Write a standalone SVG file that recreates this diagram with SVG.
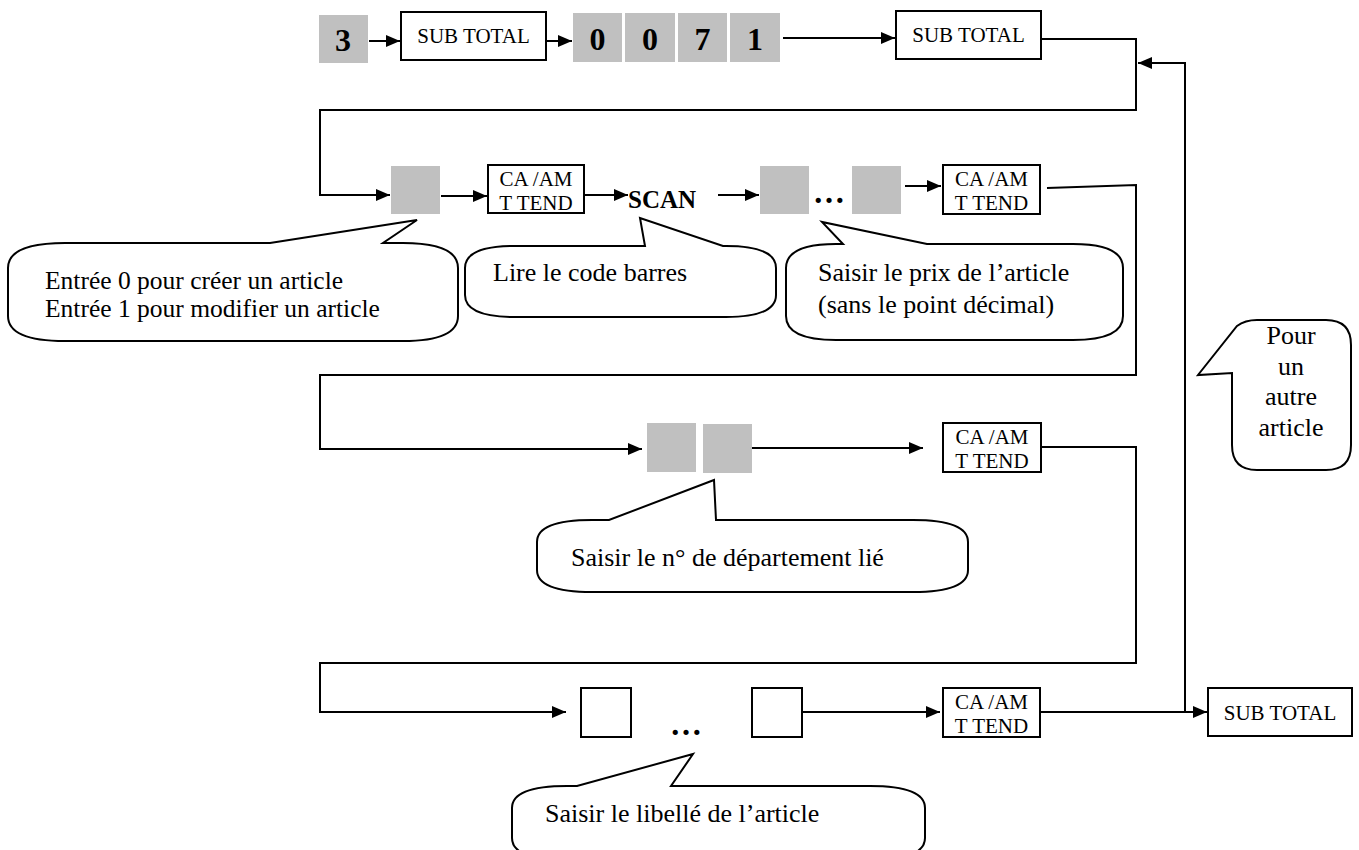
<svg xmlns="http://www.w3.org/2000/svg" width="1359" height="850" viewBox="0 0 1359 850">
<defs>
<marker id="arr" markerUnits="userSpaceOnUse" markerWidth="14" markerHeight="12" refX="14" refY="6" orient="auto">
<path d="M0,0 L14,6 L0,12 Z" fill="#000"/>
</marker>
<style>
.box{fill:#fff;stroke:#000;stroke-width:2}
.gray{fill:#c0c0c0}
.ln{fill:none;stroke:#000;stroke-width:2}
.co{fill:#fff;stroke:#000;stroke-width:2;stroke-linejoin:miter}
text{font-family:"Liberation Serif","Times New Roman",serif;fill:#000}
.k{font-size:21px;text-anchor:middle}
.d{font-size:32px;font-weight:bold;text-anchor:middle}
.c{font-size:26px}
.c2{font-size:25.5px}
.b{font-size:25px;font-weight:bold}
.e{font-size:32px;font-weight:bold}
</style>
</defs>
<rect width="1359" height="850" fill="#fff"/>
<g id="connectors">
<path class="ln" d="M369,41 H400" marker-end="url(#arr)"/>
<path class="ln" d="M547,41 H572" marker-end="url(#arr)"/>
<path class="ln" d="M783,38 H895" marker-end="url(#arr)"/>
<path class="ln" d="M1041,39 H1136 V110 H320 V195 H390" marker-end="url(#arr)"/>
<path class="ln" d="M441,196 H487" marker-end="url(#arr)"/>
<path class="ln" d="M585,195 H628" marker-end="url(#arr)"/>
<path class="ln" d="M718,195 H759" marker-end="url(#arr)"/>
<path class="ln" d="M905,186 H941" marker-end="url(#arr)"/>
<path class="ln" d="M1047,188 L1136,185 V375 H320 V449 H642" marker-end="url(#arr)"/>
<path class="ln" d="M752,448 H923" marker-end="url(#arr)"/>
<path class="ln" d="M1041,447 H1136 V663 H320 V712 H566" marker-end="url(#arr)"/>
<path class="ln" d="M802,712 H940" marker-end="url(#arr)"/>
<path class="ln" d="M1041,712 H1207" marker-end="url(#arr)"/>
<path class="ln" d="M1185,712 V63 H1138" marker-end="url(#arr)"/>
</g>
<g id="n3"><rect class="gray" x="319" y="15" width="49" height="48"/><text class="d" x="343" y="51">3</text></g>
<g id="subtotal1"><rect class="box" x="401" y="12" width="145" height="48"/><text class="k" x="473.5" y="43">SUB TOTAL</text></g>
<g id="n0a"><rect class="gray" x="573" y="13" width="49" height="49"/><text class="d" x="597.5" y="50">0</text></g>
<g id="n0b"><rect class="gray" x="625" y="13" width="50" height="49"/><text class="d" x="650" y="50">0</text></g>
<g id="n7"><rect class="gray" x="678" y="13" width="49" height="49"/><text class="d" x="702.5" y="50">7</text></g>
<g id="n1"><rect class="gray" x="730" y="13" width="50" height="49"/><text class="d" x="755" y="50">1</text></g>
<g id="subtotal2"><rect class="box" x="896" y="11" width="145" height="48"/><text class="k" x="968.5" y="42">SUB TOTAL</text></g>
<g id="key1"><rect class="gray" x="391" y="166" width="49" height="48"/></g>
<g id="camt1"><rect class="box" x="488" y="165" width="96" height="48"/><text class="k" x="536" y="186">CA /AM</text><text class="k" x="536" y="210">T TEND</text></g>
<g id="scan"><text class="b" x="628" y="208">SCAN</text></g>
<g id="price"><rect class="gray" x="760" y="166" width="49" height="48"/><text class="e" x="813" y="203">…</text><rect class="gray" x="852" y="166" width="49" height="48"/></g>
<g id="camt2"><rect class="box" x="943" y="165" width="97" height="49"/><text class="k" x="991.5" y="186">CA /AM</text><text class="k" x="991.5" y="210">T TEND</text></g>
<g id="dept"><rect class="gray" x="647" y="423" width="49" height="49"/><rect class="gray" x="703" y="424" width="49" height="49"/></g>
<g id="camt3"><rect class="box" x="943" y="423" width="98" height="49"/><text class="k" x="992" y="444">CA /AM</text><text class="k" x="992" y="468">T TEND</text></g>
<g id="label"><rect class="box" x="581" y="688" width="50" height="49"/><text class="e" x="670" y="735">…</text><rect class="box" x="752" y="688" width="50" height="49"/></g>
<g id="camt4"><rect class="box" x="943" y="688" width="97" height="49"/><text class="k" x="991.5" y="709">CA /AM</text><text class="k" x="991.5" y="733">T TEND</text></g>
<g id="subtotal3"><rect class="box" x="1208" y="688" width="144" height="48"/><text class="k" x="1280" y="720">SUB TOTAL</text></g>
<g id="callout-entree">
<path class="co" d="M65,243 L270,243 L417,220 L383,243 L403,243 Q458,243 458,268 L458,316 Q458,341 403,341 L65,341 Q8,341 8,316 L8,268 Q8,243 65,243 Z"/>
<text class="c2" x="45" y="289">Entrée 0 pour créer un article</text>
<text class="c2" x="45" y="317">Entrée 1 pour modifier un article</text>
</g>
<g id="callout-scan">
<path class="co" d="M515,246 L645,246 L640,218 L723,246 L726,246 Q776,246 776,268 L776,295 Q776,317 726,317 L515,317 Q465,317 465,295 L465,268 Q465,246 515,246 Z"/>
<text class="c" x="493" y="281">Lire le code barres</text>
</g>
<g id="callout-prix">
<path class="co" d="M836,244 L843,244 L822,222 L927,244 L1073,244 Q1123,244 1123,268 L1123,316 Q1123,340 1073,340 L836,340 Q786,340 786,316 L786,268 Q786,244 836,244 Z"/>
<text class="c" x="818" y="281">Saisir le prix de l’article</text>
<text class="c" x="818" y="313">(sans le point décimal)</text>
</g>
<g id="callout-dept">
<path class="co" d="M592,520 L609,520 L714,480 L716,520 L913,520 Q968,520 968,542 L968,570 Q968,592 913,592 L592,592 Q537,592 537,570 L537,542 Q537,520 592,520 Z"/>
<text class="c" x="571" y="566">Saisir le n° de département lié</text>
</g>
<g id="callout-libelle">
<path class="co" d="M567,786 L577,786 L693,754 L671,786 L870,786 Q925,786 925,808 L925,838 Q925,860 870,860 L567,860 Q512,860 512,838 L512,808 Q512,786 567,786 Z"/>
<text class="c" x="545" y="822">Saisir le libellé de l’article</text>
</g>
<g id="callout-autre">
<path class="co" d="M1257,320 L1326,320 Q1351,320 1351,345 L1351,445 Q1351,470 1326,470 L1257,470 Q1232,470 1232,445 L1232,373 L1198,375 L1237,326 Q1245,320 1257,320 Z"/>
<text class="c" x="1291" y="344" text-anchor="middle">Pour</text>
<text class="c" x="1291" y="375" text-anchor="middle">un</text>
<text class="c" x="1291" y="405" text-anchor="middle">autre</text>
<text class="c" x="1291" y="436" text-anchor="middle">article</text>
</g>
</svg>
